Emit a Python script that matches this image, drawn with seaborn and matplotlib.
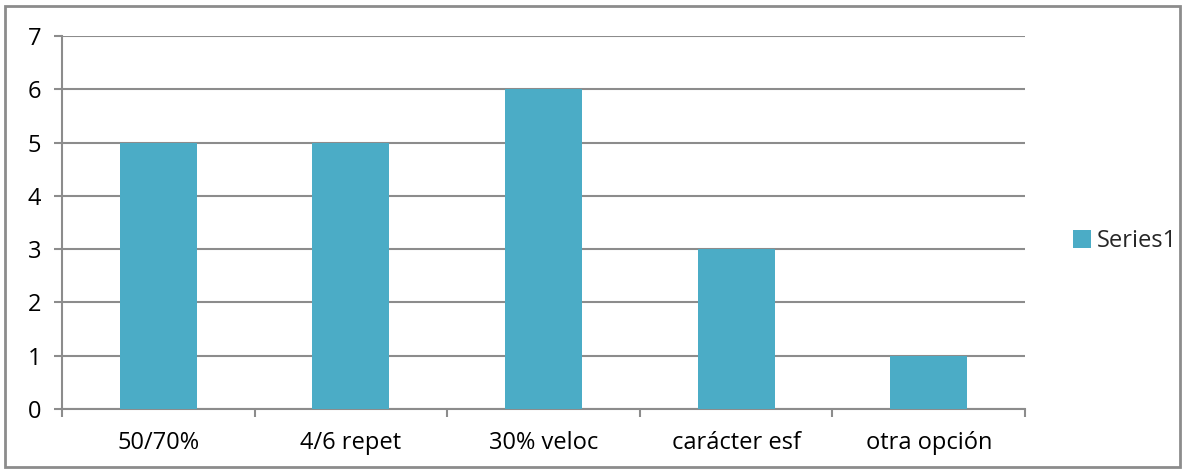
import matplotlib
matplotlib.use("Agg")
import matplotlib.pyplot as plt
import seaborn as sns
import pandas as pd
from matplotlib.patches import Rectangle
from matplotlib.ticker import FixedLocator

categories = ["50/70%", "4/6 repet", "30% veloc", "carácter esf", "otra opción"]
values = [5, 5, 6, 3, 1]
series_name = "Series1"

bar_color = "#4BACC6"
line_color = "#8C8C8C"

sns.set_style("white")
plt.rcParams['font.family'] = ['Open Sans', 'DejaVu Sans']

df = pd.DataFrame({"cat": categories, "val": values})

fig = plt.figure(figsize=(11.86, 4.72), dpi=100)
ax = fig.add_axes([62 / 1186, 1 - 409 / 472, (1025 - 62) / 1186, (409 - 36) / 472])

sns.barplot(data=df, x="cat", y="val", color=bar_color, saturation=1, width=0.4,
            ax=ax, label=series_name, zorder=3, edgecolor="none", linewidth=0)

ax.set_xlim(-0.5, len(categories) - 0.5)
ax.set_ylim(0, 7)
ax.set_yticks(range(0, 8))
ax.yaxis.grid(True, color=line_color, linewidth=1.5, zorder=0)
ax.set_axisbelow(True)
ax.set_xlabel("")
ax.set_ylabel("")

for s in ["top", "right"]:
    ax.spines[s].set_visible(False)
for s in ["left", "bottom"]:
    ax.spines[s].set_color(line_color)
    ax.spines[s].set_linewidth(1.5)

fs = 17
ax.xaxis.set_minor_locator(FixedLocator([i - 0.5 for i in range(len(categories) + 1)]))
ax.tick_params(axis="x", which="major", bottom=True, length=0, labelsize=fs, pad=16, colors="black")
ax.tick_params(axis="x", which="minor", bottom=True, length=6, width=1.5, color=line_color, direction="out")
ax.tick_params(axis="y", left=True, length=6, width=1.5, color=line_color, direction="out",
               labelsize=fs, pad=9, labelcolor="black")

ax.legend(loc="center left", bbox_to_anchor=(1.04, 0.45), frameon=False, fontsize=fs,
          handlelength=0.75, handleheight=0.75, handletextpad=0.25, borderaxespad=0)

fig.patches.append(Rectangle((5 / 1186, 5 / 472), 1 - 11 / 1186, 1 - 11 / 472,
                             transform=fig.transFigure, fill=False,
                             edgecolor=line_color, linewidth=2))

fig.savefig("out.png", dpi=100)
